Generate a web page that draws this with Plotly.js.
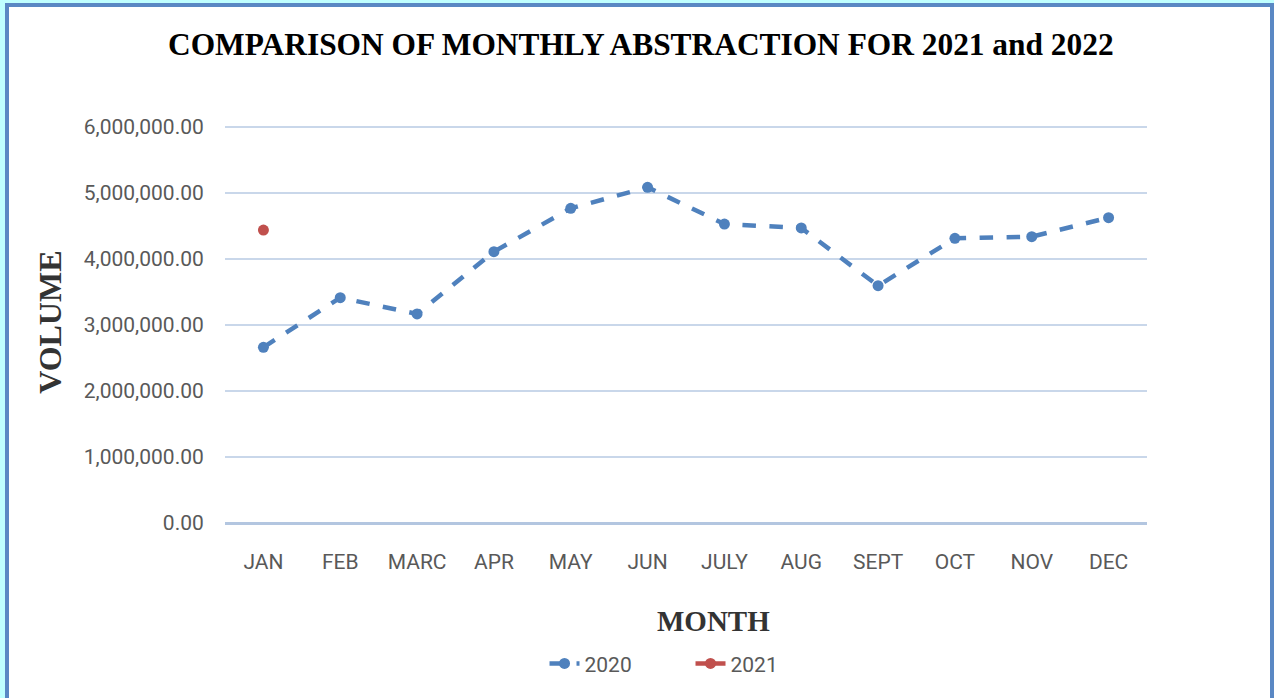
<!DOCTYPE html>
<html>
<head>
<meta charset="utf-8">
<script src="https://cdn.plot.ly/plotly-3.0.1.min.js"></script>
<style>
html,body{margin:0;padding:0;background:#ffffff;overflow:hidden;}
#chart{position:absolute;left:0;top:0;width:1274px;height:698px;}
#frameOuter{position:absolute;left:0;top:0;width:1274px;height:720px;box-sizing:border-box;border-left:5px solid #bfffff;border-top:3px solid #bfffff;pointer-events:none;}
#frameInner{position:absolute;left:5px;top:3px;width:1269px;height:720px;box-sizing:border-box;border-left:4px solid #5a88c4;border-top:4px solid #5a88c4;border-right:4px solid #5a88c4;pointer-events:none;}
</style>
</head>
<body>
<div id="chart"></div>
<div id="frameOuter"></div>
<div id="frameInner"></div>
<script>
const months = ["JAN","FEB","MARC","APR","MAY","JUN","JULY","AUG","SEPT","OCT","NOV","DEC"];
const values2020 = [2662000, 3414000, 3167000, 4111000, 4768000, 5086000, 4530000, 4470000, 3595000, 4314000, 4338000, 4626000];
const months2021 = ["JAN"];
const values2021 = [4439000];
const yTicks = [0, 1000000, 2000000, 3000000, 4000000, 5000000, 6000000];
const yTickLabels = ["0.00","1,000,000.00","2,000,000.00","3,000,000.00","4,000,000.00","5,000,000.00","6,000,000.00"];

const traces = [
  {
    x: months, y: values2020, name: "2020", type: "scatter", mode: "lines+markers",
    line: {color: "#4f81bd", width: 4.5, dash: "dash"},
    marker: {color: "#4f81bd", size: 11}
  },
  {
    x: months2021, y: values2021, name: "2021", type: "scatter", mode: "lines+markers",
    line: {color: "#c0504d", width: 4.5},
    marker: {color: "#c0504d", size: 11}
  }
];

const layout = {
  width: 1274, height: 698,
  paper_bgcolor: "#ffffff", plot_bgcolor: "#ffffff",
  margin: {l: 224.5, r: 126.5, t: 125, b: 175, autoexpand: false},
  title: {
    text: "COMPARISON OF MONTHLY ABSTRACTION FOR 2021 and 2022",
    font: {family: "Liberation Serif, Times New Roman, serif", size: 31.4, color: "#000000", weight: "bold"},
    x: 0.503, xanchor: "center", y: 0.937, yanchor: "middle"
  },
  xaxis: {
    type: "category", categoryorder: "array", categoryarray: months,
    range: [-0.5, 11.5],
    showgrid: false, zeroline: false,
    showline: false,
    ticks: "outside", ticklen: 20, tickcolor: "rgba(0,0,0,0)",
    tickfont: {family: "Roboto, sans-serif", size: 21, color: "#595959"},
    fixedrange: true
  },
  yaxis: {
    range: [0, 6030300],
    tickvals: yTicks, ticktext: yTickLabels,
    showgrid: true, gridcolor: "#c9d7ea", gridwidth: 2,
    zeroline: true, zerolinecolor: "#b3c6e0", zerolinewidth: 3,
    showline: false,
    ticks: "outside", ticklen: 16, tickcolor: "rgba(0,0,0,0)",
    tickfont: {family: "Roboto, sans-serif", size: 21, color: "#595959"},
    fixedrange: true
  },
  showlegend: true,
  legend: {
    orientation: "h", xref: "container", yref: "container",
    x: 0.542, xanchor: "center", y: 0.049, yanchor: "middle",
    font: {family: "Roboto, sans-serif", size: 21, color: "#595959"},
    entrywidth: 101, entrywidthmode: "pixels"
  },
  annotations: [
    {
      text: "MONTH", xref: "paper", yref: "paper", x: 0.53, y: -0.245,
      xanchor: "center", yanchor: "middle", showarrow: false,
      font: {family: "Liberation Serif, Times New Roman, serif", size: 29, color: "#333333", weight: "bold"}
    },
    {
      text: "VOLUME", xref: "paper", yref: "paper", x: -0.19, y: 0.505,
      xanchor: "center", yanchor: "middle", showarrow: false, textangle: -90,
      font: {family: "Liberation Serif, Times New Roman, serif", size: 32, color: "#333333", weight: "bold"}
    }
  ]
};

Plotly.newPlot("chart", traces, layout, {displayModeBar: false, staticPlot: true});
</script>
</body>
</html>
